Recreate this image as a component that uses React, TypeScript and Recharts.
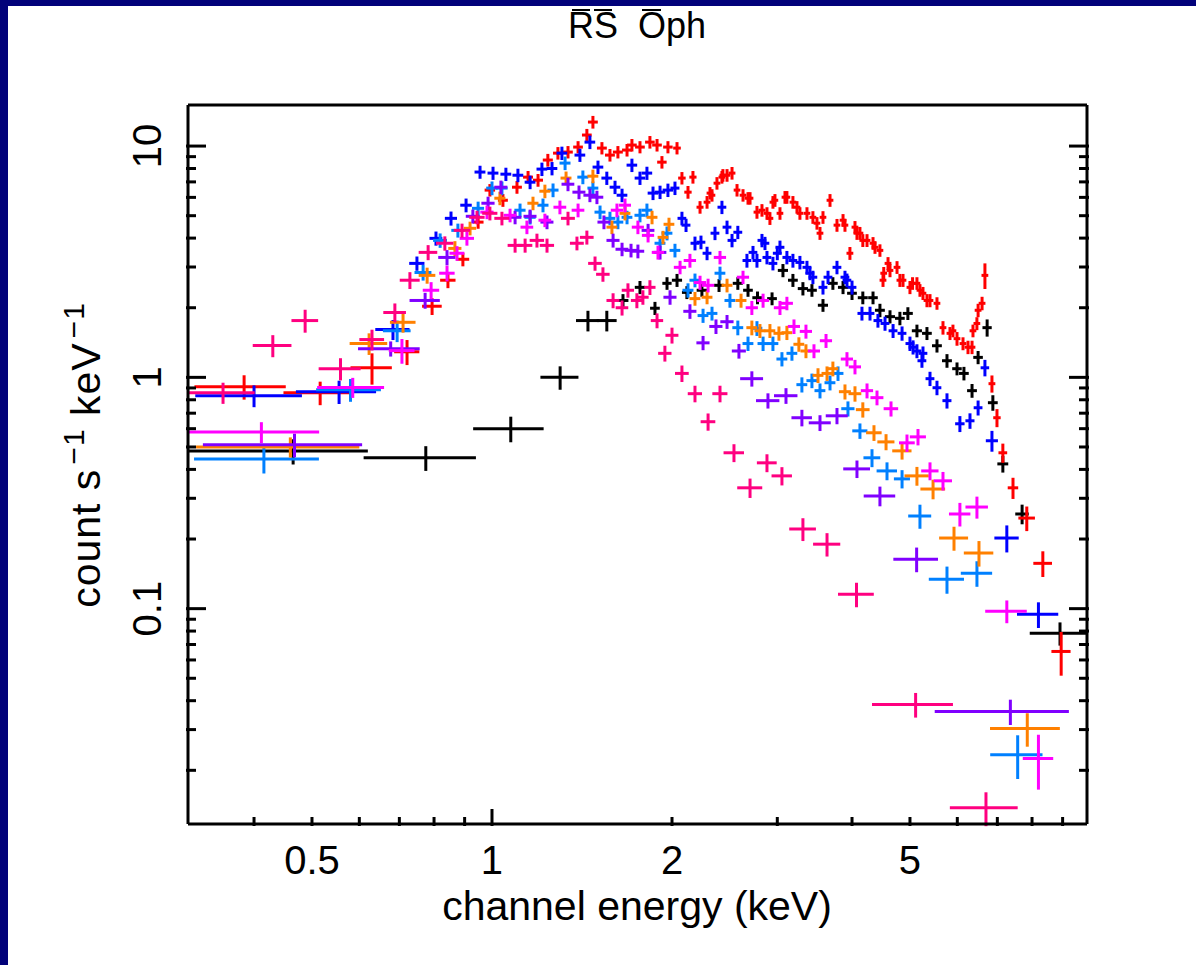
import React from 'react';
import { ScatterChart, Scatter, XAxis, YAxis, ErrorBar } from 'recharts';

// [energy keV, half bin width keV, count s^-1 keV^-1, error]
type Pt = [number, number, number, number];

const black: Pt[] = [
  [0.465, 0.155, 0.48, 0.06], [0.775, 0.165, 0.449, 0.055], [1.075, 0.145, 0.6, 0.076], [1.3, 0.095, 1.0, 0.116],
  [1.447, 0.065, 1.76, 0.18], [1.556, 0.06, 1.76, 0.18], [1.656, 0.035, 2.15, 0.14], [1.768, 0.035, 2.45, 0.16],
  [1.873, 0.035, 1.99, 0.13], [1.962, 0.035, 2.55, 0.16], [2.039, 0.04, 2.63, 0.17], [2.118, 0.04, 2.33, 0.15],
  [2.244, 0.045, 2.38, 0.15], [2.397, 0.045, 2.5, 0.16], [2.577, 0.05, 2.55, 0.16], [2.68, 0.05, 2.38, 0.15],
  [2.78, 0.055, 2.21, 0.14], [2.94, 0.055, 2.19, 0.14], [3.066, 0.06, 2.9, 0.19], [3.186, 0.06, 2.63, 0.17],
  [3.311, 0.065, 2.42, 0.16], [3.428, 0.065, 2.38, 0.15], [3.577, 0.07, 2.05, 0.13], [3.716, 0.07, 2.55, 0.16],
  [3.864, 0.075, 2.45, 0.16], [4.0, 0.075, 2.31, 0.15], [4.17, 0.08, 2.21, 0.14], [4.337, 0.08, 2.21, 0.14],
  [4.454, 0.085, 1.95, 0.13], [4.63, 0.09, 1.83, 0.12], [4.81, 0.09, 1.8, 0.12], [4.96, 0.095, 1.89, 0.12],
  [5.136, 0.1, 1.59, 0.1], [5.338, 0.1, 1.55, 0.1], [5.548, 0.105, 1.37, 0.09], [5.766, 0.11, 1.18, 0.08],
  [5.993, 0.11, 1.09, 0.07], [6.155, 0.115, 1.04, 0.07], [6.35, 0.12, 0.876, 0.06], [6.5, 0.12, 1.22, 0.08],
  [6.73, 0.12, 1.64, 0.14], [6.88, 0.13, 0.777, 0.06], [7.15, 0.15, 0.4225, 0.035], [7.7, 0.2, 0.2566, 0.025],
  [8.91, 0.98, 0.0782, 0.009],
];

const red: Pt[] = [
  [0.385, 0.067, 0.911, 0.11], [0.516, 0.068, 0.858, 0.1], [0.63, 0.05, 1.1, 0.17], [0.721, 0.035, 1.29, 0.16],
  [0.794, 0.03, 2.03, 0.17], [0.844, 0.025, 2.63, 0.2], [0.894, 0.022, 3.24, 0.22], [0.948, 0.02, 4.69, 0.3],
  [0.992, 0.02, 6.45, 0.4], [1.043, 0.02, 5.83, 0.37], [1.101, 0.021, 6.64, 0.42], [1.149, 0.022, 7.34, 0.46],
  [1.194, 0.023, 7.12, 0.45], [1.24, 0.024, 8.7, 0.55], [1.289, 0.024, 9.32, 0.58], [1.34, 0.025, 9.42, 0.58],
  [1.393, 0.026, 9.9, 0.6], [1.441, 0.027, 11.16, 0.7], [1.475, 0.028, 12.7, 0.8], [1.527, 0.029, 9.8, 0.6],
  [1.575, 0.03, 9.14, 0.57], [1.624, 0.031, 9.42, 0.58], [1.682, 0.032, 9.61, 0.6], [1.714, 0.032, 10.1, 0.63],
  [1.768, 0.033, 9.9, 0.6], [1.837, 0.034, 10.4, 0.65], [1.888, 0.035, 10.1, 0.63], [1.924, 0.035, 8.52, 0.53],
  [1.969, 0.036, 9.9, 0.6], [2.039, 0.03, 9.8, 0.6], [2.078, 0.03, 7.27, 0.45], [2.127, 0.03, 6.32, 0.4],
  [2.168, 0.03, 7.34, 0.46], [2.228, 0.03, 5.44, 0.34], [2.289, 0.03, 5.72, 0.36], [2.315, 0.03, 6.26, 0.39],
  [2.333, 0.03, 6.13, 0.38], [2.378, 0.031, 6.91, 0.43], [2.424, 0.032, 7.34, 0.46], [2.433, 0.032, 7.48, 0.47],
  [2.472, 0.032, 7.48, 0.47], [2.52, 0.033, 7.64, 0.48], [2.569, 0.033, 6.45, 0.4], [2.629, 0.034, 6.13, 0.38],
  [2.68, 0.035, 5.95, 0.37], [2.701, 0.035, 5.95, 0.37], [2.774, 0.036, 5.18, 0.33], [2.828, 0.037, 5.28, 0.33],
  [2.883, 0.037, 5.12, 0.32], [2.916, 0.038, 4.87, 0.31], [2.95, 0.038, 5.72, 0.36], [2.973, 0.038, 5.83, 0.37],
  [3.031, 0.039, 5.12, 0.32], [3.09, 0.04, 6.01, 0.38], [3.113, 0.04, 6.01, 0.38], [3.186, 0.041, 5.72, 0.36],
  [3.236, 0.042, 5.44, 0.34], [3.273, 0.042, 5.12, 0.32], [3.363, 0.044, 5.12, 0.32], [3.441, 0.045, 4.92, 0.31],
  [3.495, 0.045, 4.64, 0.29], [3.536, 0.046, 4.2, 0.27], [3.577, 0.046, 4.92, 0.31], [3.675, 0.048, 5.83, 0.37],
  [3.775, 0.049, 4.55, 0.29], [3.864, 0.05, 4.78, 0.3], [3.893, 0.05, 4.55, 0.29], [3.968, 0.052, 3.44, 0.22],
  [4.046, 0.053, 4.46, 0.28], [4.077, 0.053, 4.2, 0.27], [4.124, 0.054, 4.2, 0.27], [4.17, 0.054, 3.91, 0.25],
  [4.238, 0.055, 3.91, 0.25], [4.337, 0.056, 3.8, 0.24], [4.37, 0.057, 3.65, 0.23], [4.454, 0.058, 3.54, 0.22],
  [4.507, 0.059, 2.63, 0.17], [4.52, 0.059, 2.82, 0.18], [4.595, 0.06, 3.11, 0.2], [4.63, 0.06, 2.9, 0.19],
  [4.757, 0.062, 2.99, 0.19], [4.81, 0.062, 2.63, 0.17], [4.868, 0.063, 2.63, 0.17], [5.0, 0.065, 2.45, 0.16],
  [5.05, 0.065, 2.55, 0.16], [5.136, 0.067, 2.55, 0.16], [5.196, 0.067, 2.38, 0.15], [5.257, 0.068, 2.31, 0.15],
  [5.338, 0.069, 2.15, 0.14], [5.401, 0.07, 2.15, 0.14], [5.548, 0.072, 2.09, 0.13], [5.678, 0.074, 1.64, 0.11],
  [5.833, 0.076, 1.55, 0.1], [5.9, 0.077, 1.59, 0.1], [5.993, 0.078, 1.47, 0.1], [6.133, 0.08, 1.4, 0.09],
  [6.252, 0.081, 1.35, 0.09], [6.35, 0.082, 1.35, 0.09], [6.373, 0.083, 1.59, 0.1], [6.47, 0.084, 1.71, 0.11],
  [6.5, 0.085, 1.95, 0.13], [6.6, 0.086, 2.09, 0.14], [6.673, 0.087, 2.76, 0.35], [6.856, 0.09, 0.939, 0.08],
  [6.99, 0.1, 0.669, 0.06], [7.15, 0.12, 0.472, 0.045], [7.435, 0.15, 0.333, 0.035], [7.84, 0.25, 0.2464, 0.03],
  [8.34, 0.3, 0.157, 0.02], [8.95, 0.33, 0.0653, 0.014],
];

const blue: Pt[] = [
  [0.4, 0.081, 0.833, 0.09], [0.555, 0.085, 0.867, 0.1], [0.683, 0.045, 1.61, 0.16], [0.749, 0.022, 3.11, 0.22],
  [0.806, 0.02, 3.99, 0.28], [0.854, 0.02, 4.87, 0.34], [0.905, 0.02, 5.55, 0.38], [0.955, 0.02, 7.72, 0.5],
  [1.004, 0.021, 7.64, 0.5], [1.055, 0.022, 7.56, 0.5], [1.105, 0.023, 7.48, 0.5], [1.158, 0.024, 6.98, 0.47],
  [1.212, 0.025, 7.95, 0.53], [1.26, 0.026, 8.0, 0.53], [1.309, 0.027, 9.32, 0.62], [1.403, 0.029, 9.14, 0.6],
  [1.458, 0.03, 10.4, 0.7], [1.504, 0.031, 8.11, 0.54], [1.556, 0.032, 7.27, 0.48], [1.606, 0.033, 6.64, 0.44],
  [1.65, 0.034, 6.13, 0.41], [1.714, 0.035, 8.27, 0.55], [1.768, 0.036, 7.27, 0.48], [1.816, 0.037, 7.64, 0.5],
  [1.859, 0.038, 6.26, 0.42], [1.91, 0.039, 6.32, 0.42], [1.969, 0.04, 6.45, 0.43], [2.023, 0.035, 6.58, 0.44],
  [2.078, 0.035, 4.87, 0.33], [2.111, 0.036, 4.55, 0.3], [2.185, 0.037, 3.8, 0.26], [2.236, 0.038, 3.84, 0.26],
  [2.289, 0.039, 3.44, 0.23], [2.36, 0.04, 4.2, 0.28], [2.424, 0.041, 5.44, 0.36], [2.472, 0.042, 4.46, 0.3],
  [2.52, 0.043, 3.91, 0.26], [2.577, 0.044, 4.24, 0.28], [2.669, 0.045, 3.2, 0.22], [2.732, 0.046, 3.47, 0.23],
  [2.774, 0.047, 3.2, 0.22], [2.828, 0.048, 3.91, 0.26], [2.861, 0.048, 3.8, 0.25], [2.883, 0.049, 3.3, 0.22],
  [2.95, 0.05, 3.11, 0.21], [3.0, 0.051, 3.44, 0.23], [3.031, 0.052, 3.65, 0.25], [3.113, 0.053, 3.3, 0.22],
  [3.186, 0.054, 3.2, 0.22], [3.273, 0.056, 3.14, 0.21], [3.363, 0.057, 2.99, 0.2], [3.402, 0.058, 2.82, 0.19],
  [3.441, 0.058, 2.71, 0.18], [3.577, 0.061, 2.45, 0.17], [3.647, 0.062, 2.71, 0.18], [3.775, 0.064, 2.99, 0.2],
  [3.893, 0.066, 2.71, 0.18], [3.923, 0.066, 2.63, 0.18], [4.0, 0.068, 2.45, 0.17], [4.156, 0.071, 1.89, 0.13],
  [4.287, 0.073, 1.89, 0.13], [4.42, 0.075, 1.76, 0.12], [4.542, 0.077, 1.71, 0.12], [4.685, 0.08, 1.59, 0.11],
  [4.85, 0.082, 1.55, 0.11], [5.0, 0.085, 1.4, 0.1], [5.06, 0.086, 1.35, 0.095], [5.136, 0.087, 1.3, 0.09],
  [5.236, 0.089, 1.18, 0.08], [5.257, 0.089, 1.27, 0.09], [5.401, 0.092, 0.987, 0.07], [5.548, 0.094, 0.902, 0.065],
  [5.766, 0.1, 0.793, 0.06], [6.06, 0.11, 0.63, 0.05], [6.3, 0.11, 0.649, 0.05], [6.5, 0.11, 0.739, 0.055],
  [6.673, 0.11, 1.1, 0.09], [6.856, 0.16, 0.532, 0.055], [7.26, 0.34, 0.202, 0.027], [8.2, 0.65, 0.0945, 0.012],
];

const skyBlue: Pt[] = [
  [0.4155, 0.098, 0.444, 0.06], [0.58, 0.072, 0.884, 0.1], [0.694, 0.037, 1.59, 0.17], [0.767, 0.025, 2.84, 0.22],
  [0.819, 0.022, 3.91, 0.28], [0.877, 0.022, 4.32, 0.3], [0.948, 0.022, 5.38, 0.37], [1.0, 0.022, 6.58, 0.45],
  [1.039, 0.023, 6.58, 0.45], [1.114, 0.024, 5.28, 0.36], [1.158, 0.025, 4.92, 0.34], [1.217, 0.026, 5.55, 0.38],
  [1.265, 0.027, 6.45, 0.44], [1.325, 0.028, 8.44, 0.57], [1.419, 0.03, 7.34, 0.5], [1.475, 0.031, 6.58, 0.45],
  [1.516, 0.032, 5.18, 0.35], [1.575, 0.033, 4.87, 0.33], [1.624, 0.034, 4.69, 0.32], [1.682, 0.035, 4.92, 0.33],
  [1.768, 0.037, 5.02, 0.34], [1.816, 0.038, 5.28, 0.36], [1.91, 0.04, 3.8, 0.26], [1.962, 0.041, 4.2, 0.29],
  [2.023, 0.042, 3.54, 0.24], [2.127, 0.045, 2.38, 0.17], [2.185, 0.046, 2.63, 0.18], [2.254, 0.047, 1.85, 0.13],
  [2.333, 0.049, 1.89, 0.13], [2.406, 0.05, 2.82, 0.19], [2.5, 0.052, 2.15, 0.15], [2.577, 0.054, 1.64, 0.12],
  [2.68, 0.056, 1.4, 0.1], [2.774, 0.058, 1.63, 0.12], [2.84, 0.06, 1.4, 0.1], [2.95, 0.062, 1.4, 0.1],
  [3.054, 0.064, 1.2, 0.085], [3.174, 0.066, 1.27, 0.09], [3.298, 0.069, 0.93, 0.07], [3.428, 0.072, 0.968, 0.07],
  [3.536, 0.074, 0.876, 0.065], [3.675, 0.077, 0.948, 0.07], [3.79, 0.08, 1.04, 0.075], [3.938, 0.1, 0.732, 0.055],
  [4.124, 0.12, 0.587, 0.045], [4.32, 0.14, 0.449, 0.04], [4.577, 0.18, 0.394, 0.035], [4.85, 0.15, 0.364, 0.033],
  [5.196, 0.23, 0.2515, 0.03], [5.766, 0.39, 0.134, 0.018], [6.471, 0.39, 0.1423, 0.018], [7.57, 0.76, 0.02334, 0.005],
];

const orange: Pt[] = [
  [0.46, 0.14, 0.5, 0.05], [0.623, 0.045, 1.4, 0.15], [0.71, 0.035, 1.73, 0.17], [0.779, 0.025, 2.76, 0.22],
  [0.867, 0.022, 3.61, 0.27], [0.919, 0.022, 4.41, 0.3], [1.031, 0.022, 5.95, 0.4], [1.171, 0.025, 5.66, 0.38],
  [1.226, 0.026, 6.38, 0.43], [1.33, 0.028, 7.27, 0.49], [1.475, 0.031, 7.41, 0.5], [1.587, 0.033, 4.46, 0.3],
  [1.669, 0.035, 5.12, 0.35], [1.852, 0.039, 4.92, 0.33], [1.932, 0.04, 4.03, 0.27], [1.977, 0.041, 4.59, 0.31],
  [2.185, 0.046, 2.19, 0.15], [2.289, 0.048, 2.22, 0.15], [2.472, 0.052, 2.5, 0.17], [2.609, 0.055, 2.15, 0.15],
  [2.72, 0.057, 1.64, 0.12], [2.806, 0.059, 1.59, 0.11], [2.916, 0.061, 1.59, 0.11], [3.019, 0.063, 1.55, 0.11],
  [3.113, 0.065, 1.56, 0.11], [3.26, 0.068, 1.39, 0.1], [3.35, 0.07, 1.3, 0.09], [3.509, 0.074, 1.02, 0.075],
  [3.633, 0.076, 1.04, 0.075], [3.716, 0.078, 1.09, 0.08], [3.893, 0.09, 0.867, 0.065], [4.046, 0.1, 0.85, 0.065],
  [4.17, 0.11, 0.725, 0.055], [4.353, 0.13, 0.576, 0.045], [4.56, 0.15, 0.526, 0.042], [4.85, 0.18, 0.481, 0.04],
  [5.136, 0.24, 0.375, 0.035], [5.465, 0.26, 0.329, 0.032], [5.924, 0.33, 0.202, 0.024], [6.522, 0.37, 0.174, 0.022],
  [7.855, 1.05, 0.0303, 0.005],
];

const violet: Pt[] = [
  [0.4675, 0.139, 0.511, 0.06], [0.677, 0.08, 1.33, 0.1], [0.773, 0.045, 2.15, 0.17], [0.841, 0.028, 3.3, 0.25],
  [0.929, 0.025, 4.97, 0.34], [0.985, 0.025, 5.66, 0.38], [1.035, 0.026, 6.64, 0.45], [1.093, 0.027, 4.92, 0.33],
  [1.158, 0.029, 4.97, 0.34], [1.236, 0.031, 4.69, 0.32], [1.34, 0.033, 6.84, 0.46], [1.398, 0.035, 6.32, 0.43],
  [1.458, 0.036, 6.13, 0.41], [1.498, 0.037, 6.01, 0.4], [1.539, 0.038, 4.69, 0.32], [1.594, 0.04, 3.91, 0.27],
  [1.65, 0.041, 3.58, 0.24], [1.708, 0.042, 3.54, 0.24], [1.754, 0.043, 3.51, 0.24], [1.824, 0.045, 4.32, 0.29],
  [1.91, 0.047, 3.47, 0.24], [1.985, 0.05, 2.22, 0.16], [2.143, 0.054, 1.93, 0.14], [2.254, 0.057, 1.41, 0.1],
  [2.369, 0.06, 1.66, 0.12], [2.472, 0.063, 1.74, 0.12], [2.588, 0.07, 1.3, 0.095], [2.72, 0.12, 0.987, 0.075],
  [2.894, 0.13, 0.793, 0.06], [3.102, 0.14, 0.833, 0.065], [3.298, 0.13, 0.669, 0.055], [3.536, 0.15, 0.636, 0.05],
  [3.775, 0.16, 0.682, 0.055], [4.077, 0.21, 0.402, 0.035], [4.454, 0.27, 0.307, 0.03], [5.13, 0.44, 0.1637, 0.02],
  [7.36, 1.86, 0.0359, 0.0045],
];

const magenta: Pt[] = [
  [0.4115, 0.1025, 0.58, 0.06], [0.585, 0.075, 0.905, 0.09], [0.707, 0.035, 1.305, 0.16], [0.791, 0.025, 2.38, 0.2],
  [0.841, 0.025, 2.82, 0.22], [0.874, 0.025, 3.44, 0.25], [0.908, 0.025, 3.99, 0.28], [0.981, 0.025, 5.18, 0.35],
  [1.072, 0.026, 5.02, 0.34], [1.144, 0.028, 4.46, 0.3], [1.226, 0.03, 4.78, 0.32], [1.299, 0.032, 5.44, 0.37],
  [1.393, 0.034, 5.28, 0.36], [1.618, 0.038, 5.28, 0.36], [1.669, 0.039, 5.55, 0.38], [1.754, 0.041, 4.46, 0.3],
  [1.824, 0.043, 4.11, 0.28], [1.895, 0.045, 3.47, 0.24], [2.063, 0.049, 2.99, 0.2], [2.143, 0.051, 3.2, 0.22],
  [2.228, 0.053, 2.57, 0.18], [2.298, 0.055, 2.5, 0.17], [2.406, 0.057, 3.3, 0.22], [2.629, 0.062, 2.71, 0.18],
  [2.72, 0.064, 2.0, 0.14], [2.84, 0.067, 2.15, 0.15], [3.031, 0.071, 2.0, 0.14], [3.113, 0.073, 2.09, 0.14],
  [3.199, 0.075, 1.66, 0.12], [3.35, 0.079, 1.58, 0.11], [3.455, 0.081, 1.3, 0.09], [3.619, 0.085, 1.44, 0.1],
  [3.923, 0.092, 1.2, 0.085], [4.046, 0.095, 1.11, 0.08], [4.238, 0.1, 0.876, 0.065], [4.404, 0.11, 0.817, 0.06],
  [4.648, 0.13, 0.732, 0.055], [4.943, 0.15, 0.521, 0.045], [5.157, 0.16, 0.553, 0.045], [5.401, 0.18, 0.394, 0.035],
  [5.678, 0.2, 0.357, 0.033], [6.06, 0.25, 0.2566, 0.03], [6.471, 0.28, 0.275, 0.03], [7.26, 0.58, 0.0975, 0.011],
  [8.2, 0.48, 0.0225, 0.006],
];

const rose: Pt[] = [
  [0.355, 0.046, 0.858, 0.09], [0.43, 0.032, 1.372, 0.15], [0.487, 0.025, 1.76, 0.2], [0.558, 0.045, 1.09, 0.12],
  [0.63, 0.03, 1.457, 0.15], [0.688, 0.03, 1.907, 0.18], [0.729, 0.028, 2.63, 0.22], [0.782, 0.028, 3.47, 0.26],
  [0.834, 0.028, 3.8, 0.27], [0.891, 0.028, 4.32, 0.3], [0.944, 0.028, 4.92, 0.33], [0.992, 0.029, 5.12, 0.35],
  [1.039, 0.03, 4.87, 0.33], [1.093, 0.031, 3.72, 0.26], [1.136, 0.032, 3.72, 0.26], [1.189, 0.033, 3.91, 0.27],
  [1.236, 0.034, 3.72, 0.26], [1.34, 0.036, 4.87, 0.33], [1.387, 0.037, 3.8, 0.26], [1.441, 0.038, 4.03, 0.28],
  [1.487, 0.039, 3.11, 0.22], [1.533, 0.04, 2.79, 0.2], [1.594, 0.04, 2.15, 0.16], [1.65, 0.04, 2.0, 0.15],
  [1.688, 0.04, 2.38, 0.17], [1.747, 0.04, 2.15, 0.16], [1.788, 0.04, 2.22, 0.16], [1.837, 0.04, 2.45, 0.18],
  [1.888, 0.045, 1.76, 0.13], [1.946, 0.05, 1.27, 0.1], [2.0, 0.05, 1.52, 0.12], [2.078, 0.055, 1.04, 0.085],
  [2.185, 0.06, 0.85, 0.07], [2.298, 0.065, 0.643, 0.055], [2.406, 0.07, 0.85, 0.07], [2.539, 0.1, 0.472, 0.042],
  [2.701, 0.13, 0.333, 0.032], [2.883, 0.11, 0.427, 0.038], [3.054, 0.12, 0.375, 0.034], [3.311, 0.17, 0.221, 0.025],
  [3.633, 0.19, 0.19, 0.022], [4.07, 0.28, 0.1154, 0.014], [5.11, 0.79, 0.0385, 0.0047], [6.7, 0.87, 0.01377, 0.0023],
];

const seriesList: { name: string; color: string; pts: Pt[] }[] = [
  { name: 'obs1', color: '#000000', pts: black },
  { name: 'obs2', color: '#ff0000', pts: red },
  { name: 'obs3', color: '#0000ff', pts: blue },
  { name: 'obs4', color: '#0080ff', pts: skyBlue },
  { name: 'obs5', color: '#ff8000', pts: orange },
  { name: 'obs6', color: '#8000ff', pts: violet },
  { name: 'obs7', color: '#ff00ff', pts: magenta },
  { name: 'obs8', color: '#ff0080', pts: rose },
];

const xTicks = [0.4, 0.5, 0.6, 0.7, 0.8, 0.9, 1, 2, 3, 4, 5, 6, 7, 8, 9];
const xLabels = [0.5, 1, 2, 5];
const yTicks = [
  0.02, 0.03, 0.04, 0.05, 0.06, 0.07, 0.08, 0.09, 0.1,
  0.2, 0.3, 0.4, 0.5, 0.6, 0.7, 0.8, 0.9, 1,
  2, 3, 4, 5, 6, 7, 8, 9, 10,
];
const yLabels = [0.1, 1, 10];

const X_DOMAIN: [number, number] = [0.3102, 9.886];
const Y_DOMAIN: [number, number] = [0.01172, 15.05];

const FONT = '"Liberation Sans", Arial, Helvetica, sans-serif';
const AX = 3;

const BottomTick = ({ x, y, payload }: any) => {
  const v = payload.value;
  const len = v === 1 ? 17 : 9;
  return (
    <g>
      <line x1={x} y1={y} x2={x} y2={y - len} stroke="#000" strokeWidth={AX} />
      {xLabels.includes(v) && (
        <text x={x} y={y + 48} textAnchor="middle" fontSize={40} fontFamily={FONT} fill="#000">
          {v}
        </text>
      )}
    </g>
  );
};

const TopTick = ({ x, y, payload }: any) => {
  const len = payload.value === 1 ? 17 : 9;
  return <line x1={x} y1={y} x2={x} y2={y + len} stroke="#000" strokeWidth={AX} />;
};

const LeftTick = ({ x, y, payload }: any) => {
  const v = payload.value;
  const len = yLabels.includes(v) ? 20 : 10;
  const lx = x - 25;
  return (
    <g>
      <line x1={x} y1={y} x2={x + len} y2={y} stroke="#000" strokeWidth={AX} />
      {yLabels.includes(v) && (
        <text x={lx} y={y} transform={`rotate(-90 ${lx} ${y})`} textAnchor="middle" fontSize={40} fontFamily={FONT} fill="#000">
          {v}
        </text>
      )}
    </g>
  );
};

const RightTick = ({ x, y, payload }: any) => {
  const len = yLabels.includes(payload.value) ? 20 : 10;
  return <line x1={x} y1={y} x2={x - len} y2={y} stroke="#000" strokeWidth={AX} />;
};

const toRows = (pts: Pt[]) => pts.map(([e, ex, c, ey]) => ({ e, ex, c, ey }));

export default function App() {
  return (
    <div style={{ position: 'absolute', left: 0, top: 0, width: 1196, height: 965, background: '#02027a' }}>
      <div style={{ position: 'absolute', left: 8, top: 6, width: 1188, height: 959, background: '#fff' }} />
      <div style={{ position: 'absolute', left: 0, top: 0 }}>
        <ScatterChart width={1196} height={965} margin={{ top: 85, right: 89, bottom: 81, left: 128 }}>
          <XAxis
            dataKey="e"
            type="number"
            scale="log"
            domain={X_DOMAIN}
            allowDataOverflow
            ticks={xTicks}
            interval={0}
            height={60}
            tickSize={0}
            tickLine={false}
            tick={<BottomTick />}
            axisLine={{ stroke: '#000', strokeWidth: AX }}
          />
          <XAxis
            xAxisId="top"
            orientation="top"
            type="number"
            scale="log"
            domain={X_DOMAIN}
            allowDataOverflow
            ticks={xTicks}
            interval={0}
            height={20}
            tickSize={0}
            tickLine={false}
            tick={<TopTick />}
            axisLine={{ stroke: '#000', strokeWidth: AX }}
          />
          <YAxis
            dataKey="c"
            type="number"
            scale="log"
            domain={Y_DOMAIN}
            allowDataOverflow
            ticks={yTicks}
            interval={0}
            width={60}
            tickSize={0}
            tickLine={false}
            tick={<LeftTick />}
            axisLine={{ stroke: '#000', strokeWidth: AX }}
          />
          <YAxis
            yAxisId="right"
            orientation="right"
            type="number"
            scale="log"
            domain={Y_DOMAIN}
            allowDataOverflow
            ticks={yTicks}
            interval={0}
            width={20}
            tickSize={0}
            tickLine={false}
            tick={<RightTick />}
            axisLine={{ stroke: '#000', strokeWidth: AX }}
          />
          {seriesList.map((s) => (
            <Scatter
              key={s.name}
              name={s.name}
              data={toRows(s.pts)}
              fill={s.color}
              isAnimationActive={false}
              shape={() => <g />}
            >
              <ErrorBar dataKey="ex" direction="x" width={0} stroke={s.color} strokeWidth={3} isAnimationActive={false} />
              <ErrorBar dataKey="ey" direction="y" width={0} stroke={s.color} strokeWidth={3} isAnimationActive={false} />
            </Scatter>
          ))}
        </ScatterChart>
      </div>
      <svg width={1196} height={965} style={{ position: 'absolute', left: 0, top: 0, pointerEvents: 'none' }}>
        <text x={637} y={38} textAnchor="middle" fontSize={36} fontFamily={FONT} fill="#000" xmlSpace="preserve">
          RS  Oph
        </text>
        {/* overbars of the title */}
        <g stroke="#000" strokeWidth={2}>
          <line x1={572} y1={10} x2={590} y2={10} />
          <line x1={594} y1={10} x2={612} y2={10} />
          <line x1={642} y1={10} x2={661} y2={10} />
        </g>
        <text x={637} y={920} textAnchor="middle" fontSize={41} fontFamily={FONT} fill="#000">
          channel energy (keV)
        </text>
        <text
          x={100} y={455} transform="rotate(-90 100 455)" textAnchor="middle"
          fontSize={41} fontFamily={FONT} fill="#000" letterSpacing={1}
        >
          count s<tspan dx={4} dy={-16} fontSize={30}>−1</tspan>
          <tspan dy={16}> keV</tspan>
          <tspan dx={4} dy={-16} fontSize={30}>−1</tspan>
        </text>
      </svg>
    </div>
  );
}
